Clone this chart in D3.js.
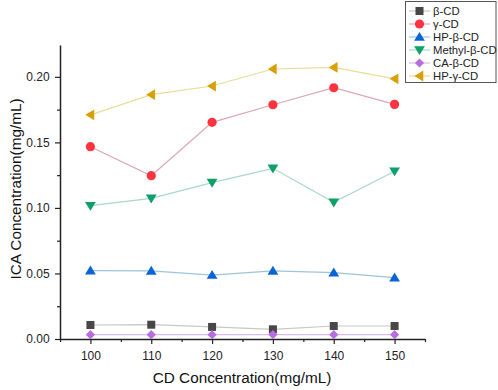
<!DOCTYPE html>
<html><head><meta charset="utf-8">
<script src="https://cdn.jsdelivr.net/npm/d3@7"></script>
<style>body{margin:0;background:#fff}svg{display:block;font-family:"Liberation Sans",Arial,sans-serif}</style>
</head><body><svg id="c" width="498" height="390"></svg>
<script>
const xValues = [100, 110, 120, 130, 140, 150];
const seriesNames = ["β-CD", "γ-CD", "HP-β-CD", "Methyl-β-CD", "CA-β-CD", "HP-γ-CD"];
const betaCD   = [0.0107, 0.0109, 0.0092, 0.0074, 0.0099, 0.0099];
const gammaCD  = [0.1467, 0.1246, 0.1653, 0.1787, 0.1917, 0.1790];
const hpBetaCD = [0.0521, 0.0520, 0.0488, 0.0520, 0.0506, 0.0468];
const methylCD = [0.1017, 0.1073, 0.1193, 0.1302, 0.1043, 0.1280];
const caBetaCD = [0.0033, 0.0033, 0.0033, 0.0034, 0.0033, 0.0033];
const hpGammaCD= [0.1710, 0.1864, 0.1930, 0.2060, 0.2072, 0.1985];
const xTicks = [100, 110, 120, 130, 140, 150];
const yTicks = [0.00, 0.05, 0.10, 0.15, 0.20];

const seriesValues = [betaCD, gammaCD, hpBetaCD, methylCD, caBetaCD, hpGammaCD];
const markerColors = ["#474747", "#ff3340", "#0a64d8", "#0fa06a", "#b66ee0", "#d9a005"];
const lineColors   = ["#c8c8c8", "#dba7b0", "#9fc3dc", "#a8d8c8", "#d9bde8", "#e8dc98"];
const symbols = ["square", "circle", "triUp", "triDown", "diamond", "triLeft"];

const svg = d3.select("#c");
const x = d3.scaleLinear().domain([95, 155]).range([60, 425]);
const y = d3.scaleLinear().domain([0, 0.2243]).range([339, 45]);

function drawMarker(g, type, cx, cy, color) {
  const s = 4.6;
  let p;
  if (type === "square") { g.append("rect").attr("x", cx-4).attr("y", cy-4).attr("width", 8).attr("height", 8).attr("fill", color); return; }
  if (type === "circle") { g.append("circle").attr("cx", cx).attr("cy", cy).attr("r", 4.6).attr("fill", color); return; }
  if (type === "triUp") p = [[cx, cy-s-0.5],[cx+s+0.8, cy+s-0.8],[cx-s-0.8, cy+s-0.8]];
  if (type === "triDown") p = [[cx, cy+s+0.5],[cx+s+0.8, cy-s+0.8],[cx-s-0.8, cy-s+0.8]];
  if (type === "diamond") p = [[cx, cy-s],[cx+s, cy],[cx, cy+s],[cx-s, cy]];
  if (type === "triLeft") p = [[cx-s-0.5, cy],[cx+s-0.8, cy-s-0.8],[cx+s-0.8, cy+s+0.8]];
  g.append("polygon").attr("points", p.map(d => d.join(",")).join(" ")).attr("fill", color);
}

// axes
const xAxis = d3.axisBottom(x).tickValues(xTicks).tickSize(5).tickSizeOuter(0).tickFormat(d3.format("d"));
const gx = svg.append("g").attr("transform", "translate(0,339)").call(xAxis);
gx.selectAll(".tick text").attr("font-size", 12).attr("fill", "#222").attr("dy", "1.05em");
gx.selectAll(".tick line").attr("stroke", "#222").attr("stroke-width", 1.2);
gx.select(".domain").attr("stroke", "#222").attr("stroke-width", 1.5);
const xMinor = d3.axisBottom(x).tickValues([95,105,115,125,135,145,155]).tickSize(3).tickFormat("");
const gxm = svg.append("g").attr("transform", "translate(0,339)").call(xMinor);
gxm.select(".domain").remove();
gxm.selectAll(".tick line").attr("stroke", "#222").attr("stroke-width", 1.2);

const yAxis = d3.axisLeft(y).tickValues(yTicks).tickSize(5).tickSizeOuter(0).tickFormat(d3.format(".2f"));
const gy = svg.append("g").attr("transform", "translate(60,0)").call(yAxis);
gy.selectAll(".tick text").attr("font-size", 12).attr("fill", "#222").attr("dx", "-0.2em");
gy.selectAll(".tick line").attr("stroke", "#222").attr("stroke-width", 1.2);
gy.select(".domain").attr("stroke", "#222").attr("stroke-width", 1.5);
const yMinor = d3.axisLeft(y).tickValues([0.025,0.075,0.125,0.175]).tickSize(3).tickFormat("");
const gym = svg.append("g").attr("transform", "translate(60,0)").call(yMinor);
gym.select(".domain").remove();
gym.selectAll(".tick line").attr("stroke", "#222").attr("stroke-width", 1.2);

// axis titles
svg.append("text").attr("x", 242).attr("y", 383).attr("text-anchor", "middle").attr("font-size", 15.3).attr("fill", "#111").text("CD Concentration(mg/mL)");
svg.append("text").attr("transform", "translate(21,189) rotate(-90)").attr("text-anchor", "middle").attr("font-size", 15.3).attr("fill", "#111").text("ICA Concentration(mg/mL)");

// series
const line = d3.line().x((d, i) => x(xValues[i])).y(d => y(d));
seriesValues.forEach((vals, k) => {
  const g = svg.append("g");
  g.append("path").attr("d", line(vals)).attr("fill", "none").attr("stroke", lineColors[k]).attr("stroke-width", 1.2);
  vals.forEach((v, i) => drawMarker(g, symbols[k], x(xValues[i]), y(v), markerColors[k]));
});

// legend
const lg = svg.append("g");
lg.append("rect").attr("x", 405.5).attr("y", 1.5).attr("width", 90.5).attr("height", 81).attr("fill", "#fff").attr("stroke", "#555").attr("stroke-width", 1);
seriesNames.forEach((name, k) => {
  const ly = 11 + k * 13;
  lg.append("line").attr("x1", 409).attr("x2", 430).attr("y1", ly).attr("y2", ly).attr("stroke", lineColors[k]).attr("stroke-width", 1.2);
  drawMarker(lg, symbols[k], 419.5, ly, markerColors[k]);
  lg.append("text").attr("x", 433).attr("y", ly + 4).attr("font-size", 11.3).attr("fill", "#222").text(name);
});
</script></body></html>
